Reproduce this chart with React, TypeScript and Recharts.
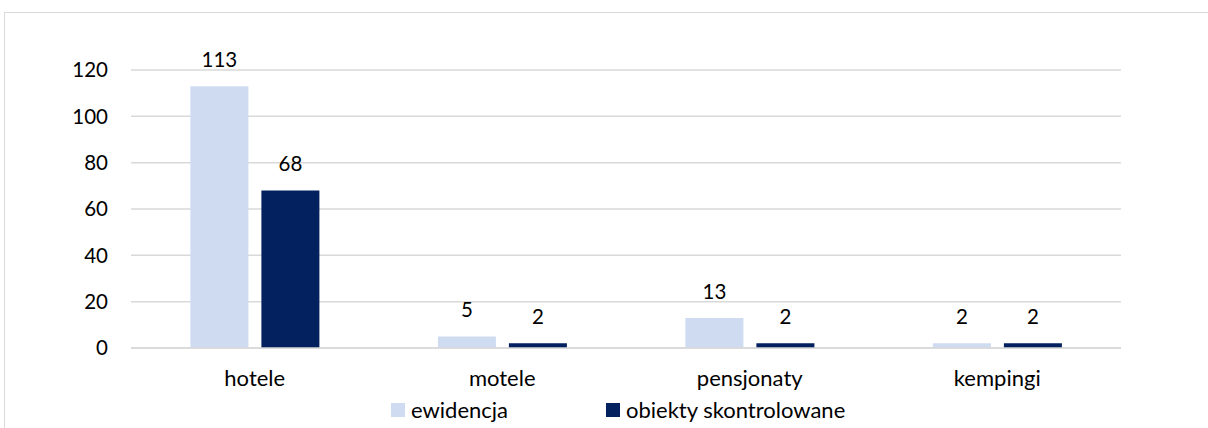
import React from "react";
import { BarChart, Bar, XAxis, YAxis, CartesianGrid, LabelList } from "recharts";

const categories = ["hotele", "motele", "pensjonaty", "kempingi"];
const ewidencja = [113, 5, 13, 2];
const skontrolowane = [68, 2, 2, 2];
const yTicks = [0, 20, 40, 60, 80, 100, 120];
const seriesNames = ["ewidencja", "obiekty skontrolowane"];
const colors = ["#CFDBF0", "#03215E"];

const data = categories.map((c, i) => ({ name: c, ewidencja: ewidencja[i], skontrolowane: skontrolowane[i] }));

const FONT = "Lato, 'Open Sans', sans-serif";
const NUM_SIZE = 20.5;
const TEXT_SIZE = 22;

const LegendBlock = () => (
  <div style={{ position: "absolute", left: 391, top: 398, display: "flex", fontFamily: FONT, fontSize: TEXT_SIZE, color: "#000", lineHeight: "24px" }}>
    {seriesNames.map((n, i) => (
      <div key={n} style={{ display: "flex", alignItems: "center", width: i === 0 ? 215 : undefined }}>
        <span style={{ display: "inline-block", width: 14, height: 14, background: colors[i], marginRight: 6 }} />
        <span>{n}</span>
      </div>
    ))}
  </div>
);

export default function App() {
  return (
    <div style={{ position: "absolute", left: 0, top: 0, width: 1208, height: 428, background: "#fff", overflow: "hidden" }}>
      <div style={{ position: "absolute", left: 4, top: 12, width: 1300, height: 500, border: "1px solid #D9D9D9" }} />
      <div style={{ position: "absolute", left: 0, top: 0 }}>
        <BarChart width={1208} height={428} data={data} margin={{ top: 70, right: 87, bottom: 0, left: 0 }} barGap={13} barCategoryGap="24%">
          <CartesianGrid vertical={false} stroke="#D9D9D9" strokeWidth={1.5} />
          <XAxis dataKey="name" height={80} axisLine={{ stroke: "#D9D9D9", strokeWidth: 1.5 }} tickLine={false} tickMargin={16}
            tick={{ fontFamily: FONT, fontSize: TEXT_SIZE, fill: "#000" }} />
          <YAxis width={131} domain={[0, 120]} ticks={yTicks} axisLine={false} tickLine={false} tickMargin={17}
            tick={{ fontFamily: FONT, fontSize: NUM_SIZE, fill: "#000" }} />
          <Bar dataKey="ewidencja" name={seriesNames[0]} fill={colors[0]} isAnimationActive={false}>
            <LabelList dataKey="ewidencja" position="top" offset={19} style={{ fontFamily: FONT, fontSize: NUM_SIZE, fill: "#000" }} />
          </Bar>
          <Bar dataKey="skontrolowane" name={seriesNames[1]} fill={colors[1]} isAnimationActive={false}>
            <LabelList dataKey="skontrolowane" position="top" offset={19} style={{ fontFamily: FONT, fontSize: NUM_SIZE, fill: "#000" }} />
          </Bar>
        </BarChart>
      </div>
      <LegendBlock />
    </div>
  );
}
